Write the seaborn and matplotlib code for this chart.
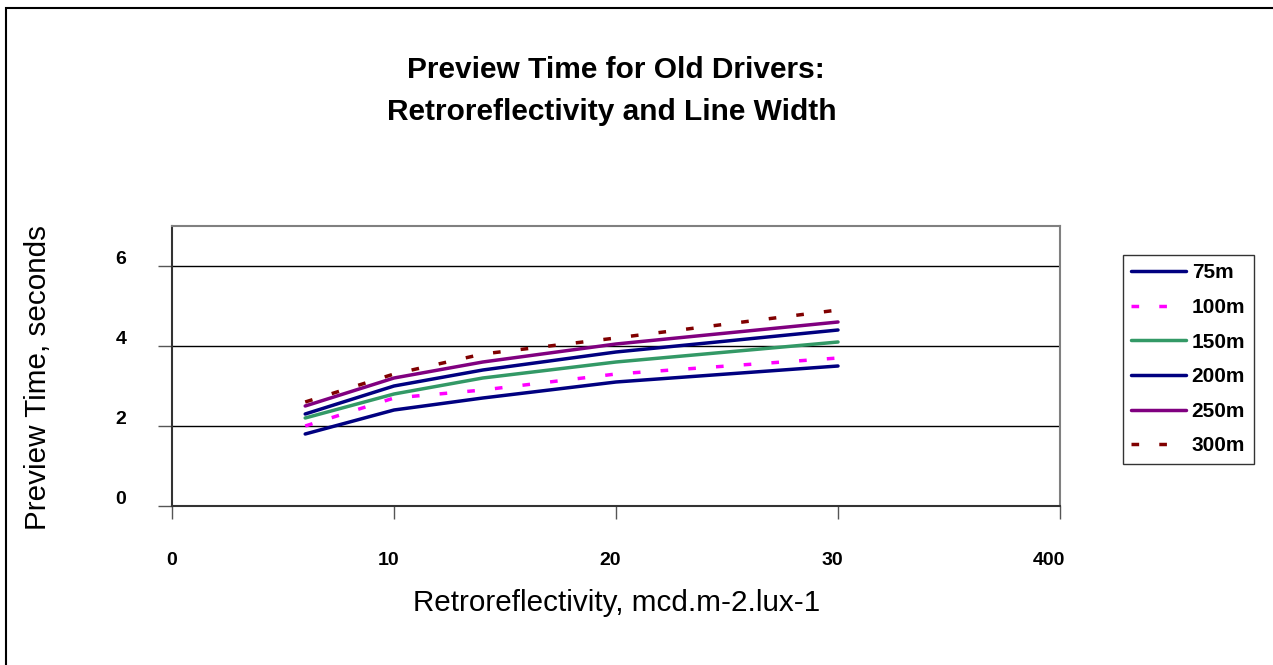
import numpy as np
import pandas as pd
import matplotlib
matplotlib.use("Agg")
import matplotlib.pyplot as plt
import matplotlib.transforms as mtransforms
import seaborn as sns

# Retroreflectivity levels (mcd.m-2.lux-1)
retro = [6, 10, 14, 20, 30]

# Preview time (s) for each line width series
t_75 = [1.8, 2.4, 2.7, 3.1, 3.5]
t_100 = [2.0, 2.7, 2.9, 3.3, 3.7]
t_150 = [2.2, 2.8, 3.2, 3.6, 4.1]
t_200 = [2.3, 3.0, 3.4, 3.85, 4.4]
t_250 = [2.5, 3.2, 3.6, 4.05, 4.6]
t_300 = [2.6, 3.3, 3.8, 4.2, 4.9]

series_names = ["75m", "100m", "150m", "200m", "250m", "300m"]
series_values = [t_75, t_100, t_150, t_200, t_250, t_300]

x_ticks = [0, 10, 20, 30, 40]
x_tick_labels = ["0", "10", "20", "30", "400"]
y_ticks = [0, 2, 4, 6]

df = pd.DataFrame(
    [(name, x, y) for name, vals in zip(series_names, series_values)
     for x, y in zip(retro, vals)],
    columns=["series", "retro", "time"],
)

palette = {
    "75m": "#000080",
    "100m": "#FF00FF",
    "150m": "#339966",
    "200m": "#000080",
    "250m": "#800080",
    "300m": "#800000",
}
dashes = {
    "75m": "",
    "100m": (2.2, 5.8),
    "150m": "",
    "200m": "",
    "250m": "",
    "300m": (2.2, 5.8),
}

sns.set_style("white")
plt.rcParams["font.family"] = ["Liberation Sans", "DejaVu Sans"]
plt.rcParams.update({
    "text.color": "black",
    "axes.labelcolor": "black",
    "xtick.color": "black",
    "ytick.color": "black",
})

W, H = 1273, 665
fig = plt.figure(figsize=(W / 100, H / 100), dpi=100)
ax = fig.add_axes([172 / W, 1 - 506 / H, (1060 - 172) / W, (506 - 226) / H])

LW = 2.5
sns.lineplot(
    data=df, x="retro", y="time", hue="series", style="series",
    palette=palette, dashes=dashes, hue_order=series_names,
    style_order=series_names, linewidth=LW, ax=ax, legend=True,
)

ax.set_xlim(0, 40)
ax.set_ylim(0, 7)
ax.set_xticks(x_ticks)
ax.set_xticklabels(x_tick_labels)
ax.set_yticks(y_ticks)
ax.set_yticklabels([str(v) for v in y_ticks])

ax.grid(False)
ax.yaxis.grid(True, color="black", linewidth=1)
ax.set_axisbelow(True)

for side in ["top", "right"]:
    ax.spines[side].set_color("#808080")
    ax.spines[side].set_linewidth(1.5)
for side in ["left", "bottom"]:
    ax.spines[side].set_color("#333333")
    ax.spines[side].set_linewidth(1.5)

ax.tick_params(axis="y", direction="out", length=10, width=1, color="#555555",
               labelsize=14, pad=23, left=True, labelcolor="black")
ax.tick_params(axis="x", direction="out", length=9, width=1, color="#555555",
               labelsize=14, pad=24, bottom=True, labelcolor="black")
for lbl in ax.get_yticklabels() + ax.get_xticklabels():
    lbl.set_fontweight("bold")

# Shift tick labels the way the spreadsheet renderer places them
for lbl in ax.get_yticklabels():
    lbl.set_transform(lbl.get_transform() + mtransforms.ScaledTranslation(0, 9 / 100, fig.dpi_scale_trans))
for lbl in ax.get_xticklabels():
    lbl.set_horizontalalignment("right")
    lbl.set_transform(lbl.get_transform() + mtransforms.ScaledTranslation(5 / 100, 0, fig.dpi_scale_trans))

ax.set_xlabel("Retroreflectivity, mcd.m-2.lux-1", fontsize=21.3)
ax.set_ylabel("Preview Time, seconds", fontsize=21.3)
ax.xaxis.label.set_va("center")
ax.yaxis.label.set_va("center")
ax.xaxis.set_label_coords((617 - 172) / (1060 - 172), -(603 - 506) / (506 - 226))
ax.yaxis.set_label_coords(-(172 - 38) / (1060 - 172), (506 - 378) / (506 - 226))

fig.text(616 / W, 1 - 70 / H, "Preview Time for Old Drivers:", ha="center", va="center",
         fontsize=21.5, fontweight="bold")
fig.text(612 / W, 1 - 112 / H, "Retroreflectivity and Line Width", ha="center", va="center",
         fontsize=21.5, fontweight="bold")

sns.move_legend(
    ax, loc="upper left", bbox_to_anchor=(1123 / W, 1 - 255 / H),
    bbox_transform=fig.transFigure, title=None, frameon=True, fancybox=False,
    borderaxespad=0, borderpad=0.4, handlelength=2.6, handletextpad=0.3,
    labelspacing=0.75, prop={"weight": "bold", "size": 15},
)
leg = ax.get_legend()
leg.get_frame().set_edgecolor("black")
leg.get_frame().set_linewidth(1)
for h in leg.get_lines():
    h.set_linewidth(LW)

# Outer chart frame
fig.add_artist(plt.Rectangle((6 / W, -0.1), 1.1, 1 - 8 / H + 0.1,
                             transform=fig.transFigure, fill=False,
                             edgecolor="black", linewidth=1.5))

fig.savefig("out.png", dpi=100, facecolor="white")
